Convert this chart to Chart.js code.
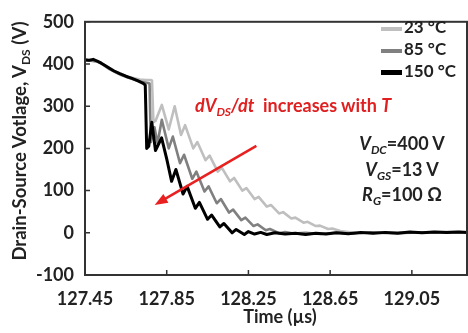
<!DOCTYPE html>
<html>
<head>
<meta charset="utf-8">
<script src="https://cdn.jsdelivr.net/npm/chart.js@4.4.1/dist/chart.umd.min.js"></script>
<style>
  body { margin: 0; background: #fff; }
  #wrap { position: relative; width: 468px; height: 333px; font-family: Lato, "Open Sans", sans-serif; font-weight: bold; color: #222; }
  #wrap canvas { position: absolute; left: 0; top: 0; }
  .lbl { position: absolute; white-space: nowrap; line-height: 18px; font-size: 18px; }
  .lbl sub { font-size: 12px; line-height: 0; vertical-align: -4px; }
  .red { color: #e02020; }
  .legrow { position: absolute; left: 381px; height: 18px; line-height: 18px; font-size: 17px; white-space: nowrap; }
  .legrow span.bar { display: inline-block; width: 21px; vertical-align: middle; margin-right: 2px; }
</style>
</head>
<body>
<div id="wrap">
  <canvas id="chart" width="468" height="333"></canvas>
  <div id="legend"></div>
  <div class="lbl" style="left:-131px;top:132px;width:300px;text-align:center;transform:rotate(-90deg);font-size:18.5px">Drain-Source Votlage, V<sub>DS</sub> (V)</div>
  <div class="lbl" style="left:220px;top:307px;width:120px;text-align:center">Time (µs)</div>
  <div class="lbl red" style="left:195px;top:96px"><i>dV<sub>DS</sub>/dt</i>&nbsp;&nbsp;increases with <i>T</i></div>
  <div class="lbl" style="left:342px;top:134px;width:120px;text-align:center"><i>V<sub>DC</sub></i>=400 V</div>
  <div class="lbl" style="left:342px;top:160px;width:120px;text-align:center"><i>V<sub>GS</sub></i>=13 V</div>
  <div class="lbl" style="left:342px;top:185px;width:120px;text-align:center"><i>R<sub>G</sub></i>=100 Ω</div>
</div>
<script>
// drain-source voltage traces (time in µs, volts)
const labels = ['23 °C', '85 °C', '150 °C'];
const colors = ['#bfbfbf', '#808080', '#000000'];

const t23 = [127.45,127.48,127.51,127.54,127.57,127.60,127.63,127.66,127.69,127.72,127.75,127.772,127.778,127.785,127.795,127.826,127.860,127.889,127.920,127.940,127.980,128.000,128.040,128.060,128.100,128.120,128.160,128.180,128.220,128.240,128.280,128.300,128.340,128.360,128.400,128.420,128.460,128.480,128.520,128.540,128.580,128.600,128.640,128.660,128.700,128.740,128.780,128.85,128.95,129.05,129.15,129.25,129.32];
const v23 = [408,408,406,399,390,382,376,370,366,363,362,362,361,262,265,303,245,300,232,255,200,215,172,183,145,154,122,130,100,106,80,85,62,66,46,49,34,36,24,26,16,17,9,10,4,2,0,-1,1,0,2,1,2];

const t85 = [127.45,127.48,127.51,127.54,127.57,127.60,127.63,127.66,127.69,127.72,127.745,127.758,127.766,127.772,127.790,127.805,127.826,127.860,127.880,127.915,127.935,127.975,127.995,128.035,128.055,128.095,128.115,128.155,128.175,128.215,128.235,128.275,128.295,128.335,128.355,128.40,128.43,128.47,128.53,128.60,128.68,128.76,128.85,128.95,129.05,129.15,129.25,129.32];
const v85 = [408,408,406,398,388,380,373,368,363,358,356,355,354,215,250,212,268,200,228,165,185,128,145,98,110,70,80,48,55,30,36,16,20,6,9,-1,2,-2,0,-3,0,-2,1,-1,0,1,2,1];

const t150 = [127.45,127.47,127.49,127.51,127.53,127.56,127.59,127.62,127.65,127.68,127.71,127.735,127.745,127.752,127.762,127.777,127.795,127.825,127.850,127.874,127.895,127.930,127.950,127.990,128.010,128.050,128.070,128.110,128.130,128.170,128.190,128.230,128.250,128.28,128.31,128.34,128.38,128.43,128.48,128.53,128.58,128.63,128.68,128.74,128.80,128.86,128.92,128.98,129.04,129.10,129.16,129.22,129.28,129.32];
const v150 = [410,409,411,407,402,393,384,377,371,366,360,354,350,200,205,262,195,225,175,122,150,92,110,58,72,32,42,14,22,0,8,-4,3,-3,1,-4,0,-3,-1,-4,-1,-3,0,-2,1,-1,1,-1,2,0,2,1,2,1];

const xTicks = [127.45, 127.85, 128.25, 128.65, 129.05];
const yTicks = [-100, 0, 100, 200, 300, 400, 500];

const times = [t23, t85, t150];
const volts = [v23, v85, v150];
const widths = [2.6, 2.6, 3];

const tickFont = { family: 'Lato', size: 18, weight: 'bold' };

// box, inward tick marks and the red arrow
const decor = {
    id: 'decor',
    afterDatasetsDraw(chart) {
        const ctx = chart.ctx;
        const a = chart.chartArea;
        const xs = chart.scales.x, ys = chart.scales.y;
        ctx.save();
        ctx.strokeStyle = '#333';
        ctx.lineWidth = 2;
        ctx.strokeRect(a.left, a.top, a.right - a.left, a.bottom - a.top);
        ctx.lineWidth = 1.5;
        ctx.beginPath();
        yTicks.forEach(v => {
            const py = ys.getPixelForValue(v);
            ctx.moveTo(a.left, py); ctx.lineTo(a.left + 5, py);
        });
        xTicks.forEach(v => {
            const px = xs.getPixelForValue(v);
            ctx.moveTo(px, a.bottom); ctx.lineTo(px, a.bottom - 5);
        });
        ctx.stroke();

        // arrow: dV/dt rises with temperature
        const x0 = xs.getPixelForValue(128.289), y0 = ys.getPixelForValue(206);
        const x1 = xs.getPixelForValue(127.791), y1 = ys.getPixelForValue(66);
        const ang = Math.atan2(y1 - y0, x1 - x0);
        ctx.strokeStyle = '#e82020';
        ctx.fillStyle = '#e82020';
        ctx.lineWidth = 2.5;
        ctx.beginPath();
        ctx.moveTo(x0, y0);
        ctx.lineTo(x1 - 8 * Math.cos(ang), y1 - 8 * Math.sin(ang));
        ctx.stroke();
        ctx.beginPath();
        ctx.moveTo(x1, y1);
        ctx.lineTo(x1 - 13 * Math.cos(ang) + 5 * Math.sin(ang), y1 - 13 * Math.sin(ang) - 5 * Math.cos(ang));
        ctx.lineTo(x1 - 13 * Math.cos(ang) - 5 * Math.sin(ang), y1 - 13 * Math.sin(ang) + 5 * Math.cos(ang));
        ctx.closePath();
        ctx.fill();
        ctx.restore();
    }
};

function buildLegend() {
    const box = document.getElementById('legend');
    labels.forEach((lab, i) => {
        const row = document.createElement('div');
        row.className = 'legrow';
        row.style.top = (18 + i * 22) + 'px';
        const bar = document.createElement('span');
        bar.className = 'bar';
        bar.style.height = (i == 2 ? 5 : 4) + 'px';
        bar.style.background = colors[i];
        row.appendChild(bar);
        row.appendChild(document.createTextNode(lab));
        box.appendChild(row);
    });
}

function draw() {
    const datasets = labels.map((lab, i) => ({
        label: lab,
        data: times[i].map((t, k) => ({ x: t, y: volts[i][k] })),
        borderColor: colors[i],
        borderWidth: widths[i],
        pointRadius: 0,
        tension: 0,
        borderJoinStyle: 'round',
        order: 2 - i
    }));

    new Chart(document.getElementById('chart'), {
        type: 'line',
        data: { datasets: datasets },
        options: {
            responsive: false,
            animation: false,
            layout: { padding: { top: 10, right: 1, left: 0, bottom: 0 } },
            plugins: { legend: { display: false }, tooltip: { enabled: false } },
            scales: {
                x: {
                    type: 'linear',
                    min: 127.45,
                    max: 129.32,
                    afterBuildTicks: s => { s.ticks = xTicks.map(v => ({ value: v })); },
                    afterFit: s => { s.height = 58; },
                    ticks: {
                        autoSkip: false, maxRotation: 0, padding: 13,
                        color: '#222', font: tickFont,
                        callback: v => Number(v).toFixed(2)
                    },
                    grid: { display: false, drawTicks: false },
                    border: { display: false }
                },
                y: {
                    min: -100,
                    max: 500,
                    afterFit: s => { s.width = 85; },
                    ticks: { stepSize: 100, padding: 11, color: '#222', font: tickFont },
                    grid: { display: false, drawTicks: false },
                    border: { display: false }
                }
            }
        },
        plugins: [decor]
    });
}

buildLegend();
document.fonts.load('bold 18px Lato').then(draw, draw);
</script>
</body>
</html>
